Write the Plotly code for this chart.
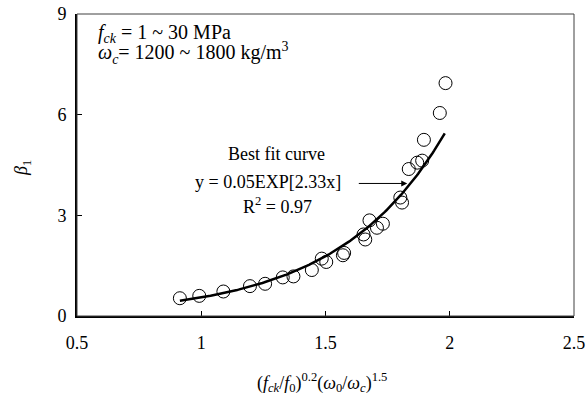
import numpy as np
import plotly.graph_objects as go

# Measured data points
x_data = [0.914, 0.992, 1.089, 1.196, 1.257, 1.328, 1.371, 1.445, 1.485, 1.503,
          1.570, 1.575, 1.653, 1.660, 1.677, 1.707, 1.731, 1.801, 1.808, 1.835,
          1.869, 1.889, 1.896, 1.960, 1.983]
y_data = [0.53, 0.60, 0.73, 0.89, 0.96, 1.15, 1.18, 1.37, 1.71, 1.61,
          1.81, 1.88, 2.43, 2.28, 2.85, 2.63, 2.75, 3.53, 3.38, 4.38,
          4.57, 4.63, 5.25, 6.05, 6.94]

# Best fit curve y = a*exp(b*x) (label rounds a to 0.05; drawn curve matches a ~ 0.054)
fit_a = 0.054
fit_b = 2.33
fit_x_range = [0.914, 1.980]

x_range = [0.5, 2.5]
y_range = [0, 9]
x_ticks = [0.5, 1, 1.5, 2, 2.5]
x_tick_labels = ["0.5", "1", "1.5", "2", "2.5"]
y_ticks = [0, 3, 6, 9]
y_tick_labels = ["0", "3", "6", "9"]

FONT = "Liberation Serif, Times New Roman, serif"

W, H = 587, 405
ML, MR, MT, MB = 77, 13, 14, 89
PW, PH = W - ML - MR, H - MT - MB


def px2paper(px, py):
    return (px - ML) / PW, (H - MB - py) / PH


fx = np.linspace(fit_x_range[0], fit_x_range[1], 200)
fy = fit_a * np.exp(fit_b * fx)

fig = go.Figure()
fig.add_trace(go.Scatter(x=fx, y=fy, mode="lines", xaxis="x2", yaxis="y2",
                         line=dict(color="black", width=2.5), showlegend=False))
fig.add_trace(go.Scatter(x=x_data, y=y_data, mode="markers",
                         marker=dict(symbol="circle-open", size=13,
                                     color="black", line=dict(width=1)),
                         showlegend=False))

fig.update_layout(
    width=W, height=H, autosize=False,
    margin=dict(l=ML, r=MR, t=MT, b=MB, autoexpand=False),
    paper_bgcolor="white", plot_bgcolor="white",
    font=dict(family=FONT, size=18, color="black"),
    # label axes (invisible outside ticks just push labels away)
    xaxis=dict(range=x_range, tickvals=x_ticks, ticktext=x_tick_labels,
               showgrid=False, zeroline=False, showline=True,
               linecolor="black", linewidth=2, ticks="outside", ticklen=9,
               tickcolor="rgba(0,0,0,0)"),
    yaxis=dict(range=y_range, tickvals=y_ticks, ticktext=y_tick_labels,
               showgrid=False, zeroline=False, showline=True,
               linecolor="black", linewidth=2, ticks="outside", ticklen=5,
               tickcolor="rgba(0,0,0,0)"),
    # overlay axes carrying the inside tick marks
    xaxis2=dict(range=x_range, tickvals=x_ticks, showticklabels=False,
                overlaying="x", anchor="y2", side="bottom",
                showgrid=False, zeroline=False, showline=False,
                ticks="inside", ticklen=5, tickcolor="black", tickwidth=1),
    yaxis2=dict(range=y_range, tickvals=y_ticks, showticklabels=False,
                overlaying="y", anchor="x2", side="left",
                showgrid=False, zeroline=False, showline=False,
                ticks="inside", ticklen=5, tickcolor="black", tickwidth=1),
    shapes=[dict(type="rect", xref="paper", yref="paper", x0=0, x1=1, y0=0, y1=1,
                 line=dict(color="#404040", width=1), fillcolor="rgba(0,0,0,0)")],
)

fig.add_annotation(x=0.575, y=8.43, xref="x", yref="y", xanchor="left", yanchor="middle",
                   text="<i>f<sub>ck</sub></i> = 1 ~ 30 MPa", showarrow=False,
                   font=dict(size=20))
fig.add_annotation(x=0.575, y=7.84, xref="x", yref="y", xanchor="left", yanchor="middle",
                   text="<i>ω<sub>c</sub></i>= 1200 ~ 1800 kg/m<sup>3</sup>", showarrow=False,
                   font=dict(size=20))
fig.add_annotation(x=1.304, y=4.84, xref="x", yref="y", text="Best fit curve", showarrow=False)
fig.add_annotation(x=1.268, y=3.98, xref="x", yref="y", text="y = 0.05EXP[2.33x]", showarrow=False)
fig.add_annotation(x=1.308, y=3.30, xref="x", yref="y", text="R<sup>2</sup> = 0.97", showarrow=False)
fig.add_annotation(x=1.829, y=3.95, xref="x", yref="y", ax=1.628, ay=3.95, axref="x", ayref="y",
                   text="", showarrow=True, arrowhead=2, arrowsize=1.2, arrowwidth=1,
                   arrowcolor="black")
yx, yy = px2paper(23, 168)
fig.add_annotation(x=yx, y=yy, xref="paper", yref="paper", xanchor="center", yanchor="middle",
                   text="<i>β</i><sub>1</sub>", textangle=-90, showarrow=False)
tx, ty = px2paper(322, 382)
fig.add_annotation(x=tx, y=ty, xref="paper", yref="paper", xanchor="center", yanchor="middle",
                   text="(<i>f<sub>ck</sub></i>/<i>f</i><sub>0</sub>)<sup>0.2</sup>(<i>ω</i><sub>0</sub>/<i>ω<sub>c</sub></i>)<sup>1.5</sup>",
                   showarrow=False)

fig.write_html("out.html", config={"displayModeBar": False},
               post_script="document.body.style.margin='0';document.body.style.overflow='hidden';")
